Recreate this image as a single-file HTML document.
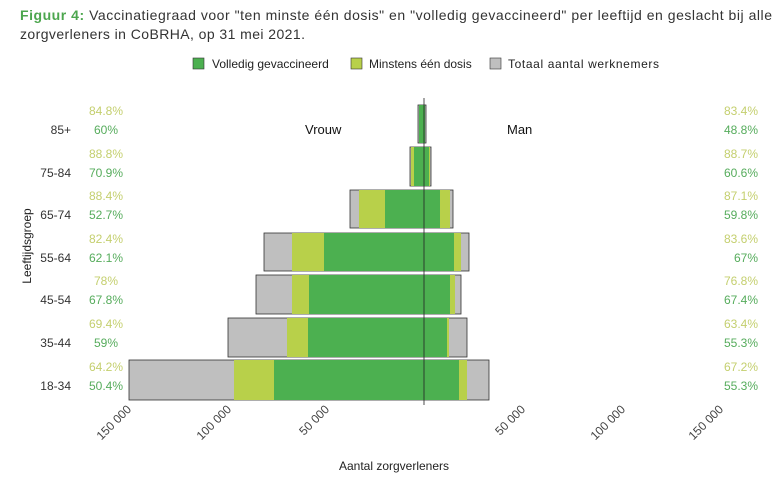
<!DOCTYPE html><html><head><style>body{margin:0;background:#fff}svg{display:block}text{font-family:"Liberation Sans",sans-serif}</style></head><body>
<svg width="779" height="480" xmlns="http://www.w3.org/2000/svg">
<text x="20" y="20" font-size="14" fill="#333" textLength="752" lengthAdjust="spacing"><tspan fill="#4ca64e" font-weight="bold">Figuur 4:</tspan> Vaccinatiegraad voor "ten minste één dosis" en "volledig gevaccineerd" per leeftijd en geslacht bij alle</text>
<text x="20" y="39" font-size="14" fill="#333" textLength="285" lengthAdjust="spacing">zorgverleners in CoBRHA,  op 31 mei 2021.</text>
<g font-size="12" fill="#222">
<rect x="193" y="58" width="11" height="11" fill="#4cb050" stroke="#333" stroke-width="0.6"/><text x="212" y="68">Volledig gevaccineerd</text>
<rect x="351" y="58" width="11" height="11" fill="#b8d04a" stroke="#333" stroke-width="0.6"/><text x="369" y="68">Minstens één dosis</text>
<rect x="490" y="58" width="11" height="11" fill="#bfbfbf" stroke="#333" stroke-width="0.6"/><text x="508" y="68" textLength="151">Totaal aantal werknemers</text>
</g>
<text x="305" y="134" font-size="13" fill="#111">Vrouw</text>
<text x="507" y="134" font-size="13" fill="#111">Man</text>
<g stroke="#333" stroke-width="0.8">
<rect x="418" y="105" width="8" height="38" fill="#bfbfbf"/><rect x="419" y="105" width="6" height="38" fill="#4cb050" stroke="none"/>
<rect x="410" y="147" width="21" height="39" fill="#bfbfbf"/><rect x="411" y="147" width="19" height="39" fill="#b8d04a" stroke="none"/><rect x="414" y="147" width="15" height="39" fill="#4cb050" stroke="none"/>
<rect x="350" y="190" width="103" height="38" fill="#bfbfbf"/><rect x="359" y="190" width="91" height="38" fill="#b8d04a" stroke="none"/><rect x="385" y="190" width="55" height="38" fill="#4cb050" stroke="none"/>
<rect x="264" y="233" width="205" height="38" fill="#bfbfbf"/><rect x="292" y="233" width="169" height="38" fill="#b8d04a" stroke="none"/><rect x="324" y="233" width="130" height="38" fill="#4cb050" stroke="none"/>
<rect x="256" y="275" width="205" height="39" fill="#bfbfbf"/><rect x="292" y="275" width="163" height="39" fill="#b8d04a" stroke="none"/><rect x="309" y="275" width="141" height="39" fill="#4cb050" stroke="none"/>
<rect x="228" y="318" width="239" height="39" fill="#bfbfbf"/><rect x="287" y="318" width="162" height="39" fill="#b8d04a" stroke="none"/><rect x="308" y="318" width="139" height="39" fill="#4cb050" stroke="none"/>
<rect x="129" y="360" width="360" height="40" fill="#bfbfbf"/><rect x="234" y="360" width="233" height="40" fill="#b8d04a" stroke="none"/><rect x="274" y="360" width="185" height="40" fill="#4cb050" stroke="none"/>
</g>
<line x1="424" y1="98" x2="424" y2="405" stroke="#222" stroke-width="0.8"/>
<g font-size="12" fill="#333" text-anchor="end">
<text x="71" y="134">85+</text><text x="71" y="177">75-84</text><text x="71" y="219">65-74</text><text x="71" y="262">55-64</text><text x="71" y="304">45-54</text><text x="71" y="347">35-44</text><text x="71" y="390">18-34</text>
</g>
<text transform="translate(31,246) rotate(-90)" font-size="12" fill="#222" text-anchor="middle">Leeftijdsgroep</text>
<g font-size="12" text-anchor="middle">
<g fill="#c4cf6e"><text x="106" y="115">84.8%</text><text x="106" y="158">88.8%</text><text x="106" y="200">88.4%</text><text x="106" y="243">82.4%</text><text x="106" y="285">78%</text><text x="106" y="328">69.4%</text><text x="106" y="371">64.2%</text></g>
<g fill="#56ac5c"><text x="106" y="134">60%</text><text x="106" y="177">70.9%</text><text x="106" y="219">52.7%</text><text x="106" y="262">62.1%</text><text x="106" y="304">67.8%</text><text x="106" y="347">59%</text><text x="106" y="390">50.4%</text></g>
</g>
<g font-size="12" text-anchor="end">
<g fill="#c4cf6e"><text x="758" y="115">83.4%</text><text x="758" y="158">88.7%</text><text x="758" y="200">87.1%</text><text x="758" y="243">83.6%</text><text x="758" y="285">76.8%</text><text x="758" y="328">63.4%</text><text x="758" y="371">67.2%</text></g>
<g fill="#56ac5c"><text x="758" y="134">48.8%</text><text x="758" y="177">60.6%</text><text x="758" y="219">59.8%</text><text x="758" y="262">67%</text><text x="758" y="304">67.4%</text><text x="758" y="347">55.3%</text><text x="758" y="390">55.3%</text></g>
</g>
<g font-size="12" fill="#444" text-anchor="end">
<text transform="translate(132,410) rotate(-45)">150 000</text>
<text transform="translate(232,410) rotate(-45)">100 000</text>
<text transform="translate(330,410) rotate(-45)">50 000</text>
<text transform="translate(526,410) rotate(-45)">50 000</text>
<text transform="translate(626,410) rotate(-45)">100 000</text>
<text transform="translate(724,410) rotate(-45)">150 000</text>
</g>
<text x="394" y="470" font-size="12" fill="#222" text-anchor="middle">Aantal zorgverleners</text>
</svg>
</body></html>
